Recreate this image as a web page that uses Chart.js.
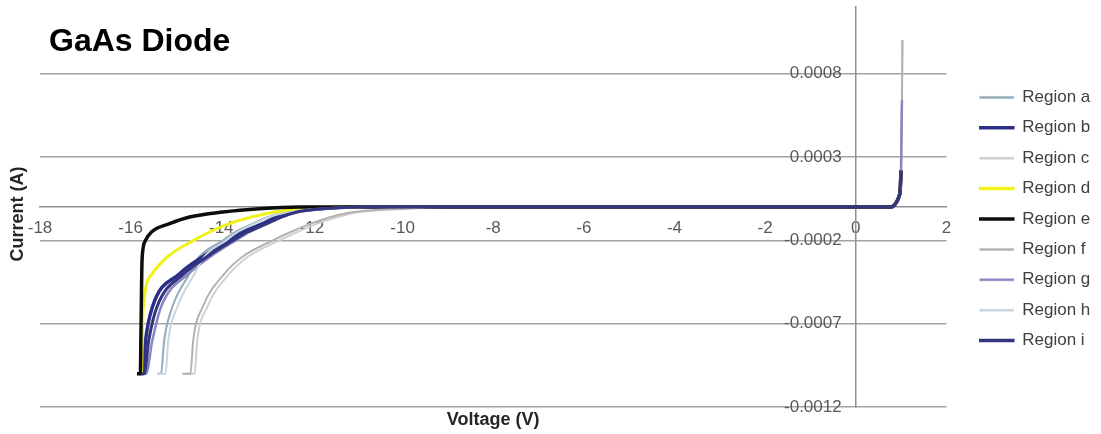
<!DOCTYPE html>
<html>
<head>
<meta charset="utf-8">
<script src="https://cdn.jsdelivr.net/npm/chart.js@4/dist/chart.umd.min.js"></script>
<style>
  html, body { margin: 0; padding: 0; background: #ffffff; }
  #c { display: block; }
</style>
</head>
<body>
<canvas id="c" width="1101" height="434"></canvas>
<script>
// ---- GaAs diode I-V sweeps, one series per measured region ----
const regionNames = ['Region a', 'Region b', 'Region c', 'Region d', 'Region e',
                     'Region f', 'Region g', 'Region h', 'Region i'];

// Reverse branch: current levels (A) shared by every region ...
const reverseAmps = [-0.001, -0.0008, -0.0006, -0.0004, -0.0003, -0.0002,
                     -0.00015, -0.0001, -0.00006, -0.00003, -0.00001, 0];
// ... and the voltage (V) at which each region reaches them
const reverseVoltsA = [-15.33, -15.26, -15.08, -14.70, -14.49, -13.96, -13.70, -13.30, -12.97, -12.52, -11.86, -10.80];
const reverseVoltsB = [-15.73, -15.67, -15.52, -14.92, -14.42, -13.84, -13.53, -13.09, -12.78, -12.43, -11.83, -11.06];
const reverseVoltsC = [-14.59, -14.53, -14.31, -13.82, -13.42, -12.72, -12.32, -11.88, -11.43, -10.95, -9.85, -8.96];
const reverseVoltsD = [-15.76, -15.745, -15.72, -15.52, -15.19, -14.61, -14.26, -13.82, -13.33, -12.83, -12.16, -11.39];
const reverseVoltsE = [-15.785, -15.775, -15.765, -15.755, -15.745, -15.67, -15.54, -15.14, -14.70, -13.97, -13.16, -12.27];
const reverseVoltsF = [-14.68, -14.62, -14.41, -13.93, -13.54, -12.86, -12.47, -12.02, -11.58, -11.08, -10.00, -9.12];
const reverseVoltsG = [-15.66, -15.52, -15.33, -14.72, -14.25, -13.68, -13.38, -12.98, -12.66, -12.30, -11.70, -10.90];
const reverseVoltsH = [-15.23, -15.17, -14.97, -14.59, -14.38, -13.89, -13.64, -13.27, -12.94, -12.49, -11.83, -10.73];
const reverseVoltsI = [-15.70, -15.60, -15.42, -14.82, -14.32, -13.74, -13.42, -13.00, -12.68, -12.33, -11.75, -10.95];

// Sweep start voltage for each region, held at the compliance current
const complianceAmps = -0.001;
const sweepStartVolts = [-15.41, -15.78, -14.81, -15.79, -15.86, -14.86, -15.72, -15.39, -15.76];

// Forward branch (turn-on near 0.9 V), shared shape
const forwardVolts = [0.78, 0.85, 0.90, 0.95, 0.98, 1.00, 1.01, 1.02, 1.03];
const forwardAmps  = [0, 0.00001, 0.00003, 0.00006, 0.0001, 0.00022, 0.00045, 0.00064, 0.001];
// Highest forward current recorded for each region
const forwardLimit = [0.00022, 0.00022, 0.001, 0.00022, 0.00022, 0.001, 0.00064, 0.00022, 0.00022];

// Axis ticks
const xTicks = [-18, -16, -14, -12, -10, -8, -6, -4, -2, 0, 2];
const xTickLabels = ['-18', '-16', '-14', '-12', '-10', '-8', '-6', '-4', '-2', '0', '2'];
const yTicks = [-0.0012, -0.0007, -0.0002, 0.0003, 0.0008];
const yTickLabels = ['-0.0012', '-0.0007', '-0.0002', '0.0003', '0.0008'];

const chartTitle = 'GaAs Diode';
const xTitle = 'Voltage (V)';
const yTitle = 'Current (A)';

// ---- styling ----
const lineColors = ['#94aab8', '#2c2f88', '#d0d0d0', '#f2f21a', '#0d0d0d',
                    '#b2b2b2', '#8787c3', '#c8d7de', '#34357f'];
const lineWidths = [2, 3.5, 2, 3, 3.5, 2, 2.5, 2, 3];
const FONT = '"Liberation Sans", Arial, sans-serif';
// y tick labels sit a little to the left of the vertical axis (in volts)
const yLabelAnchor = -0.31;

const reverseVolts = [reverseVoltsA, reverseVoltsB, reverseVoltsC, reverseVoltsD, reverseVoltsE,
                      reverseVoltsF, reverseVoltsG, reverseVoltsH, reverseVoltsI];

function sweepPoints(i) {
  const pts = [{ x: sweepStartVolts[i], y: complianceAmps }];
  reverseVolts[i].forEach((v, k) => pts.push({ x: v, y: reverseAmps[k] }));
  forwardVolts.forEach((v, k) => {
    if (forwardAmps[k] <= forwardLimit[i] + 1e-12) pts.push({ x: v, y: forwardAmps[k] });
  });
  return pts;
}

const datasets = regionNames.map((name, i) => ({
  label: name,
  data: sweepPoints(i),
  showLine: true,
  borderColor: lineColors[i],
  backgroundColor: lineColors[i],
  borderWidth: lineWidths[i],
  pointRadius: 0,
  pointHoverRadius: 0,
  cubicInterpolationMode: 'monotone',
  // later regions are painted over earlier ones
  order: regionNames.length - 1 - i
}));

// Title and axis captions drawn over the plot
const captions = {
  id: 'captions',
  afterDraw(chart) {
    const { ctx, chartArea } = chart;
    ctx.save();
    ctx.fillStyle = '#000000';
    ctx.textBaseline = 'middle';
    ctx.textAlign = 'left';
    ctx.font = 'bold 32px ' + FONT;
    ctx.fillText(chartTitle, 49, 42);
    ctx.font = 'bold 18px ' + FONT;
    ctx.fillStyle = '#262626';
    ctx.textAlign = 'center';
    ctx.fillText(xTitle, (chartArea.left + chartArea.right) / 2, 420);
    ctx.translate(18, 214);
    ctx.rotate(-Math.PI / 2);
    ctx.fillText(yTitle, 0, 0);
    ctx.restore();
  }
};

// Nudge the legend column down and slightly left
const legendOffset = {
  id: 'legendOffset',
  afterLayout(chart) {
    const lg = chart.legend;
    if (lg) { lg.top += 12; lg.bottom += 12; lg.left -= 2; lg.right -= 2; }
  }
};

const yRange = { min: -0.0012, max: 0.0012 };
const setYTicks = s => { s.ticks = yTicks.map(v => ({ value: v })); };
const noPadY = s => { s.paddingTop = 0; s.paddingBottom = 0; };

new Chart(document.getElementById('c'), {
  type: 'scatter',
  data: { datasets },
  plugins: [captions, legendOffset],
  options: {
    responsive: false,
    animation: false,
    events: [],
    layout: { padding: { left: 40, top: 7, bottom: 27, right: 0 } },
    scales: {
      x: {
        type: 'linear',
        min: -18, max: 2,
        position: { y: 0 },
        afterBuildTicks: s => { s.ticks = xTicks.map(v => ({ value: v })); },
        afterFit: s => { s.paddingLeft = 0; s.paddingRight = 0; },
        grid: { display: false, drawTicks: false },
        border: { display: true, color: '#8f8f8f', width: 1.5 },
        ticks: {
          padding: 11,
          maxRotation: 0,
          autoSkip: false,
          color: '#595959',
          font: { family: FONT, size: 17 },
          callback: (v, i) => xTickLabels[i]
        }
      },
      y: {
        type: 'linear',
        ...yRange,
        position: { x: 0 },
        afterBuildTicks: setYTicks,
        afterFit: noPadY,
        grid: { display: true, drawTicks: false, color: '#a3a3a3', lineWidth: 1.5 },
        border: { display: true, color: '#8f8f8f', width: 1.5 },
        ticks: { display: false }
      },
      yLabels: {
        type: 'linear',
        ...yRange,
        position: { x: yLabelAnchor },
        afterBuildTicks: setYTicks,
        afterFit: noPadY,
        grid: { display: false, drawTicks: false },
        border: { display: false },
        ticks: {
          padding: 0,
          autoSkip: false,
          color: '#595959',
          font: { family: FONT, size: 17 },
          callback: (v, i) => yTickLabels[i]
        }
      },
      gap: {
        type: 'linear',
        position: 'right',
        display: true,
        grid: { display: false, drawTicks: false },
        border: { display: false },
        ticks: { display: false },
        afterFit: s => { s.width = 22; }
      }
    },
    plugins: {
      title: { display: false },
      tooltip: { enabled: false },
      legend: {
        display: true,
        position: 'right',
        align: 'center',
        labels: {
          boxWidth: 34,
          boxHeight: 2,
          padding: 13.4,
          color: '#404040',
          font: { family: FONT, size: 17 },
          sort: (a, b) => a.datasetIndex - b.datasetIndex,
          generateLabels: chart => Chart.defaults.plugins.legend.labels.generateLabels(chart).map(l => {
            const k = l.datasetIndex;
            l.fillStyle = lineColors[k];
            l.strokeStyle = lineColors[k];
            l.lineWidth = lineWidths[k] >= 3 ? 1.5 : 0.5;
            return l;
          })
        }
      }
    }
  }
});
</script>
</body>
</html>
